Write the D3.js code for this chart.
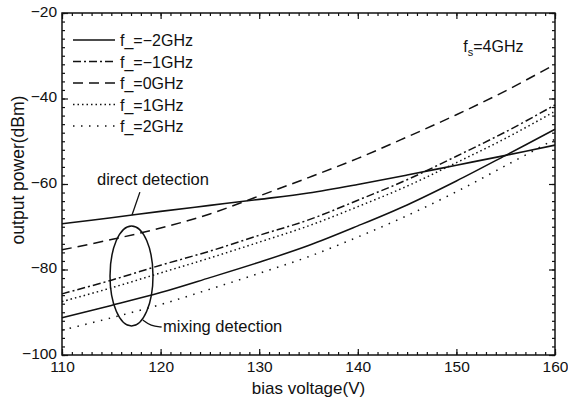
<!DOCTYPE html>
<html>
<head>
<meta charset="utf-8">
<script src="https://cdn.jsdelivr.net/npm/d3@7"></script>
<style>
  body { margin: 0; background: #fff; }
  svg { display: block; font-family: "Liberation Sans", Arial, sans-serif; }
</style>
</head>
<body>
<div id="chart"></div>
<script>
//////////////////////////////
// DATA
//////////////////////////////

const biasVoltage = [110, 115, 120, 125, 130, 135, 140, 145, 150, 155, 160]
const directDetection = [-69.3, -67.9, -66.4, -65.0, -63.6, -62.1, -60.1, -57.9, -55.6, -53.3, -50.9]
const mixMinus2 = [-91.3, -88.4, -85.4, -81.9, -78.3, -74.4, -69.8, -64.9, -59.3, -53.3, -47.2]
const mixMinus1 = [-85.7, -82.5, -79.0, -75.7, -72.0, -68.4, -63.8, -59.0, -53.5, -47.8, -41.5]
const mixZero = [-75.4, -73.0, -70.3, -67.0, -62.8, -58.5, -54.0, -49.0, -43.8, -38.2, -32.0]
const mixPlus1 = [-87.5, -84.3, -80.8, -77.3, -73.6, -69.8, -65.3, -60.5, -55.0, -49.3, -43.0]
const mixPlus2 = [-94.2, -91.3, -88.2, -84.6, -80.9, -77.0, -72.4, -67.4, -61.8, -55.7, -49.5]

const legendLabels = ["f_=\u22122GHz", "f_=\u22121GHz", "f_=0GHz", "f_=1GHz", "f_=2GHz"]
const xTicks = [110, 120, 130, 140, 150, 160]
const yTicks = [-100, -80, -60, -40, -20]

//////////////////////////////
// CHART
//////////////////////////////

const width = 568
const height = 399
const margin = {top: 13, right: 13, bottom: 44, left: 62}
const w = width - margin.left - margin.right
const h = height - margin.top - margin.bottom

const x = d3.scaleLinear().domain([110, 160]).range([0, w])
const y = d3.scaleLinear().domain([-100, -20]).range([h, 0])

const svg = d3.select("#chart").append("svg").attr("width", width).attr("height", height)
const g = svg.append("g").attr("transform", "translate(" + margin.left + "," + margin.top + ")")

// mixing series and their dash styles
const series = [
	{values: mixMinus2, dash: null},
	{values: mixMinus1, dash: "8,3,2,3"},
	{values: mixZero, dash: "10,6"},
	{values: mixPlus1, dash: "1.5,3"},
	{values: mixPlus2, dash: "1.5,6.5"}
]

const line = d3.line()
	.x((d, i) => x(biasVoltage[i]))
	.y(d => y(d))
	.curve(d3.curveCatmullRom)

g.append("path")
	.attr("d", line(directDetection))
	.attr("fill", "none").attr("stroke", "#111").attr("stroke-width", 1.6)

series.forEach(s => {
	g.append("path")
		.attr("d", line(s.values))
		.attr("fill", "none")
		.attr("stroke", "#111")
		.attr("stroke-width", 1.5)
		.attr("stroke-dasharray", s.dash)
})

// frame + inward ticks on all sides
g.append("rect").attr("width", w).attr("height", h)
	.attr("fill", "none").attr("stroke", "#111").attr("stroke-width", 1.5)

const xMinor = d3.range(110, 161, 1)
const yMinor = d3.range(-100, -19, 2)

const xAxisB = d3.axisBottom(x).tickValues(xTicks).tickSize(-6).tickPadding(6).tickFormat(d3.format("d"))
const xAxisT = d3.axisTop(x).tickValues(xTicks).tickSize(-6).tickFormat("")
const yAxisL = d3.axisLeft(y).tickValues(yTicks).tickSize(-6).tickPadding(5).tickFormat(d => d3.format("d")(d).replace("-", "\u2212"))
const yAxisR = d3.axisRight(y).tickValues(yTicks).tickSize(-6).tickFormat("")

const styleAxis = (sel) => {
	sel.select(".domain").remove()
	sel.selectAll("line").attr("stroke", "#111").attr("stroke-width", 1.2)
	sel.selectAll("text").attr("font-size", 15.5).attr("fill", "#111")
		.attr("font-family", "'Liberation Sans', Arial, sans-serif")
}

g.append("g").attr("transform", "translate(0," + h + ")").call(xAxisB).call(styleAxis)
g.append("g").call(xAxisT).call(styleAxis)
g.append("g").call(yAxisL).call(styleAxis).selectAll("text").attr("dy", "0.2em")
g.append("g").attr("transform", "translate(" + w + ",0)").call(yAxisR).call(styleAxis)

g.append("g").attr("transform", "translate(0," + h + ")")
	.call(d3.axisBottom(x).tickValues(xMinor).tickSize(-3).tickFormat("")).call(styleAxis)
g.append("g")
	.call(d3.axisTop(x).tickValues(xMinor).tickSize(-3).tickFormat("")).call(styleAxis)
g.append("g")
	.call(d3.axisLeft(y).tickValues(yMinor).tickSize(-3).tickFormat("")).call(styleAxis)
g.append("g").attr("transform", "translate(" + w + ",0)")
	.call(d3.axisRight(y).tickValues(yMinor).tickSize(-3).tickFormat("")).call(styleAxis)

// axis titles
svg.append("text")
	.attr("x", margin.left + w / 2).attr("y", 394)
	.attr("text-anchor", "middle").attr("font-size", 17).attr("fill", "#111")
	.text("bias voltage(V)")

svg.append("text")
	.attr("transform", "translate(24," + (margin.top + 157) + ") rotate(-90)")
	.attr("text-anchor", "middle").attr("font-size", 17.5).attr("fill", "#111")
	.text("output power(dBm)")

// legend
const legend = svg.append("g").attr("transform", "translate(73,40)")
legendLabels.forEach((lab, i) => {
	const row = legend.append("g").attr("transform", "translate(0," + (i * 21.5) + ")")
	row.append("line").attr("x1", 0).attr("x2", 42).attr("y1", 0).attr("y2", 0)
		.attr("stroke", "#111").attr("stroke-width", 1.5)
		.attr("stroke-dasharray", series[i].dash)
	row.append("text").attr("x", 47).attr("y", 6)
		.attr("font-size", 16).attr("fill", "#111").text(lab)
})

// fs label
const fs = g.append("text").attr("x", x(150.7)).attr("y", y(-29.1))
	.attr("font-size", 16).attr("fill", "#111")
fs.append("tspan").text("f")
fs.append("tspan").attr("font-size", 11).attr("dy", 4).text("s")
fs.append("tspan").attr("dy", -4).text("=4GHz")

// annotations
g.append("text").attr("x", x(113.55)).attr("y", y(-60.2))
	.attr("font-size", 16.5).attr("fill", "#111").text("direct detection")
g.append("line")
	.attr("x1", x(117.9)).attr("y1", y(-61.9)).attr("x2", x(117.1)).attr("y2", y(-67.25))
	.attr("stroke", "#111").attr("stroke-width", 1.3)

g.append("ellipse")
	.attr("cx", x(117.05)).attr("cy", y(-81.5))
	.attr("rx", x(110 + 2.18) - x(110)).attr("ry", y(-100) - y(-100 + 11.7))
	.attr("fill", "none").attr("stroke", "#111").attr("stroke-width", 1.5)

g.append("path")
	.attr("d", d3.line().curve(d3.curveBasis)([
		[x(118.2), y(-91.8)], [x(119.0), y(-93.2)], [x(120.1), y(-93.45)]
	]))
	.attr("fill", "none").attr("stroke", "#111").attr("stroke-width", 1.3)

g.append("text").attr("x", x(120.25)).attr("y", y(-94.6))
	.attr("font-size", 16.5).attr("fill", "#111").text("mixing detection")
</script>
</body>
</html>
